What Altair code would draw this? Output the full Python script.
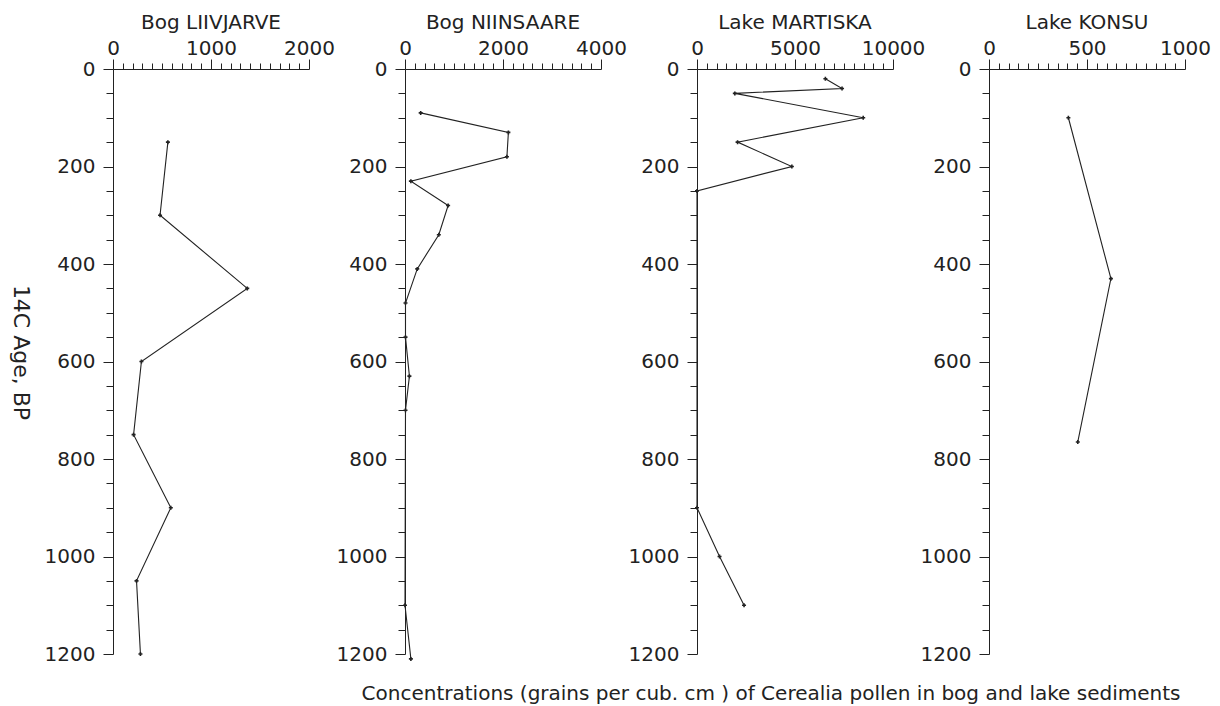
import altair as alt
import pandas as pd

# ---- data ----
liiv_age = [150, 300, 450, 600, 750, 900, 1050, 1200]
liiv_val = [560, 480, 1370, 290, 210, 590, 240, 280]

niin_age = [90, 130, 180, 230, 280, 340, 410, 480, 550, 630, 700, 1100, 1210]
niin_val = [320, 2110, 2080, 120, 880, 690, 250, 10, 10, 90, 10, 0, 120]

mart_age = [20, 40, 50, 100, 150, 200, 250, 900, 1000, 1100]
mart_val = [6550, 7400, 1930, 8480, 2070, 4840, 0, 0, 1150, 2400]

kons_age = [100, 430, 765]
kons_val = [405, 622, 453]

titles = ["Bog LIIVJARVE", "Bog NIINSAARE", "Lake MARTISKA", "Lake KONSU"]
x_max = [2000, 4000, 10000, 1000]
x_step = [100, 200, 500, 50]
x_major = [1000, 2000, 5000, 500]
y_ticks = list(range(0, 1201, 50))
y_title = "14C Age, BP"
caption = "Concentrations (grains per cub. cm ) of Cerealia pollen in bog and lake sediments"

FONT = "DejaVu Sans"
INK = "#222222"
W, H = 196, 585


def panel(title, ages, vals, xmax, xstep, major, first):
    df = pd.DataFrame({"age": ages, "value": vals})
    xaxis = alt.Axis(
        orient="top",
        values=list(range(0, xmax + 1, xstep)),
        format="d",
        labelExpr=f"datum.value % {major} === 0 ? datum.label : ''",
        tickSize={"condition": {"test": f"datum.value % {major} === 0", "value": 10}, "value": 6},
        labelPadding=1,
        labelOverlap=False,
        labelFlush=False,
        grid=False,
        title=None,
    )
    yaxis_kw = dict(
        orient="left",
        values=y_ticks,
        format="d",
        labelExpr="datum.value % 200 === 0 ? datum.label : ''",
        tickSize={"condition": {"test": "datum.value % 200 === 0", "value": 10}, "value": 7},
        labelPadding=8,
        labelOverlap=False,
        grid=False,
    )
    if first:
        yaxis = alt.Axis(
            title=y_title,
            titleAngle=90,
            titleX=-93,
            titleY=283,
            titleAlign="center",
            titleBaseline="middle",
            titleFontSize=22,
            **yaxis_kw,
        )
    else:
        yaxis = alt.Axis(title=None, **yaxis_kw)

    x = alt.X("value:Q", scale=alt.Scale(domain=[0, xmax], nice=False, zero=True), axis=xaxis)
    y = alt.Y("age:Q", scale=alt.Scale(domain=[0, 1200], reverse=True, nice=False), axis=yaxis)
    base = alt.Chart(df)
    line = base.mark_line(color=INK, strokeWidth=1.1).encode(x=x, y=y, order="age:Q")
    pts = base.mark_point(shape="cross", size=16, filled=True, color=INK, opacity=1).encode(x=x, y=y)
    return alt.layer(line, pts).properties(
        width=W,
        height=H,
        title=alt.TitleParams(title, fontSize=20, font=FONT, fontWeight="normal", color=INK, offset=5),
    )


series = [(liiv_age, liiv_val), (niin_age, niin_val), (mart_age, mart_val), (kons_age, kons_val)]
panels = [
    panel(titles[i], series[i][0], series[i][1], x_max[i], x_step[i], x_major[i], i == 0)
    for i in range(4)
]

chart = (
    alt.hconcat(*panels, spacing=96, bounds="flush")
    .properties(
        title=alt.TitleParams(
            caption, orient="bottom", anchor="end", fontSize=20, font=FONT,
            fontWeight="normal", color=INK, offset=20, dx=-30,
        ),
        padding={"left": 9, "top": 13, "right": 5, "bottom": 5},
        background="white",
    )
    .configure_axis(
        labelFont=FONT, labelFontSize=20, labelFontWeight="normal", labelColor=INK,
        titleFont=FONT, titleFontWeight="normal", titleColor=INK,
        domainColor=INK, tickColor=INK, domainWidth=1, tickWidth=1,
    )
    .configure_view(stroke=None)
)

chart.save("out.html", embed_options={"renderer": "svg", "actions": False})
